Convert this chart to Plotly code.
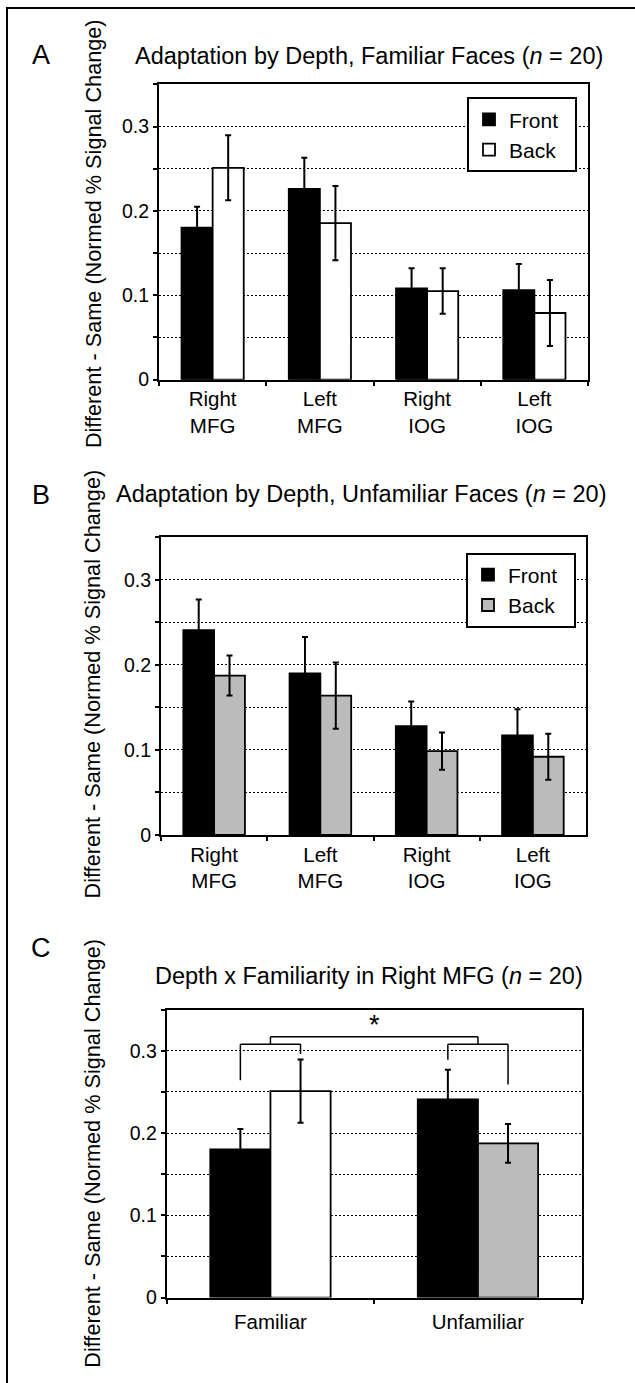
import plotly.graph_objects as go

# ---------------- data ----------------
regions = ["Right<br>MFG", "Left<br>MFG", "Right<br>IOG", "Left<br>IOG"]
conditions = ["Familiar", "Unfamiliar"]

fam_front = [0.180, 0.226, 0.108, 0.106]
fam_front_err = [0.025, 0.037, 0.024, 0.031]
fam_back = [0.251, 0.1855, 0.105, 0.079]
fam_back_err = [0.0385, 0.044, 0.027, 0.039]

unf_front = [0.241, 0.190, 0.128, 0.117]
unf_front_err = [0.036, 0.043, 0.029, 0.031]
unf_back = [0.1875, 0.164, 0.0986, 0.092]
unf_back_err = [0.0235, 0.039, 0.022, 0.027]

# panel C: Right MFG only
c_front = [fam_front[0], unf_front[0]]
c_front_err = [fam_front_err[0], unf_front_err[0]]
c_back = [fam_back[0], unf_back[0]]
c_back_err = [fam_back_err[0], unf_back_err[0]]

y_ticks = [0, 0.1, 0.2, 0.3]
y_ticktext = ["0", "0.1", "0.2", "0.3"]

# significance bracket levels (panel C)
bracket_top = 0.308
bracket_join = 0.317
left_legs = [0.264, 0.296]
right_legs = [0.289, 0.259]
star_y = 0.331

# ---------------- styling ----------------
W, H = 635, 1383
FONT = "Liberation Sans, Arial, Helvetica, sans-serif"
GRAY = "#bbbbbb"
BARGAP = 0.42


def px(x):
    return x / W


def py(y):
    return 1 - y / H


def err(arr):
    return dict(type="data", array=arr, color="black", thickness=2, width=3)


fig = go.Figure()

# Panel A
fig.add_trace(go.Bar(x=regions, y=fam_front, error_y=err(fam_front_err), name="Front&nbsp;&nbsp;",
                     marker=dict(color="black", line=dict(color="black", width=1.8)),
                     xaxis="x", yaxis="y", legend="legend"))
fig.add_trace(go.Bar(x=regions, y=fam_back, error_y=err(fam_back_err), name="Back",
                     marker=dict(color="white", line=dict(color="black", width=1.8)),
                     xaxis="x", yaxis="y", legend="legend"))
# Panel B
fig.add_trace(go.Bar(x=regions, y=unf_front, error_y=err(unf_front_err), name="Front&nbsp;&nbsp;",
                     marker=dict(color="black", line=dict(color="black", width=1.8)),
                     xaxis="x2", yaxis="y2", legend="legend2"))
fig.add_trace(go.Bar(x=regions, y=unf_back, error_y=err(unf_back_err), name="Back",
                     marker=dict(color=GRAY, line=dict(color="black", width=1.8)),
                     xaxis="x2", yaxis="y2", legend="legend2"))
# Panel C
fig.add_trace(go.Bar(x=conditions, y=c_front, error_y=err(c_front_err), name="Front",
                     marker=dict(color="black", line=dict(color="black", width=1.8)),
                     xaxis="x3", yaxis="y3", showlegend=False))
fig.add_trace(go.Bar(x=conditions, y=c_back, error_y=err(c_back_err), name="Back",
                     marker=dict(color=["white", GRAY], line=dict(color="black", width=1.8)),
                     xaxis="x3", yaxis="y3", showlegend=False))

grid = dict(gridcolor="black", griddash="2px,2px", gridwidth=1)


def yaxis(domain, anchor):
    return dict(domain=domain, anchor=anchor, range=[0, 0.35], tickmode="array",
                tickvals=y_ticks, ticktext=y_ticktext, showgrid=True, **grid,
                minor=dict(tick0=0, dtick=0.05, showgrid=True, gridcolor="black",
                           griddash="2px,2px", gridwidth=1, ticks="outside",
                           ticklen=4, tickcolor="black", tickwidth=1.5),
                ticks="outside", ticklen=4, tickcolor="black", tickwidth=1.5,
                showline=True, mirror=True, linewidth=2, linecolor="black",
                zeroline=False, tickfont=dict(size=19.5, color="black"), fixedrange=True)


def xaxis(domain, anchor, standoff=0):
    return dict(domain=domain, anchor=anchor, type="category", tickson="boundaries",
                ticks="outside", ticklen=4, tickcolor="black", tickwidth=1.5,
                showline=True, mirror=True, linewidth=2, linecolor="black",
                ticklabelstandoff=standoff,
                showgrid=False, tickfont=dict(size=20.5, color="black"), fixedrange=True)


legend_common = dict(bgcolor="white", bordercolor="black", borderwidth=2,
                     font=dict(size=21, color="black", family=FONT),
                     xanchor="left", yanchor="top", tracegroupgap=0)

annotations = []
# panel labels
for lab, cy in [("A", 55), ("B", 499), ("C", 956)]:
    annotations.append(dict(text=lab, x=px(41), y=py(cy), xref="paper", yref="paper",
                            showarrow=False, xanchor="center", yanchor="middle",
                            font=dict(size=27, color="black", family=FONT)))
# titles
titles = [
    ("Adaptation by Depth, Familiar Faces (<i>n</i> = 20)", 133, 56),
    ("Adaptation by Depth, Unfamiliar Faces (<i>n</i> = 20)", 114, 498),
    ("Depth x Familiarity in Right MFG (<i>n</i> = 20)", 153, 984),
]
for t, lx, cy in titles:
    annotations.append(dict(text=t, x=px(lx), y=py(cy), xref="paper", yref="paper",
                            showarrow=False, xanchor="left", yanchor="middle",
                            font=dict(size=23.5, color="black", family=FONT)))
# y-axis titles
for cy in [236, 690, 1163]:
    annotations.append(dict(text="Different - Same (Normed % Signal Change)",
                            x=px(93), y=py(cy), xref="paper", yref="paper",
                            textangle=-90, showarrow=False, xanchor="center",
                            yanchor="middle", font=dict(size=21.7, color="black", family=FONT)))
# significance star
annotations.append(dict(text="*", x=0.5, y=star_y, xref="x3", yref="y3", showarrow=False,
                        xanchor="center", yanchor="middle",
                        font=dict(size=27, color="black", family=FONT)))

# brackets in panel C (bar centers from group geometry)
off = (1 - BARGAP) / 4
shapes = []
ln = dict(color="black", width=1.5)


def seg(x0, y0, x1, y1):
    shapes.append(dict(type="line", xref="x3", yref="y3", x0=x0, y0=y0, x1=x1, y1=y1, line=ln))


for ci, legs in [(0, left_legs), (1, right_legs)]:
    xa, xb = ci - off, ci + off
    seg(xa, legs[0], xa, bracket_top)
    seg(xa, bracket_top, xb, bracket_top)
    seg(xb, bracket_top, xb, legs[1])
    seg(ci, bracket_top, ci, bracket_join)
seg(0, bracket_join, 1, bracket_join)

# outer frame
shapes.append(dict(type="rect", xref="paper", yref="paper", x0=px(7), x1=1.05,
                   y0=-0.05, y1=py(8), line=dict(color="black", width=2),
                   fillcolor="rgba(0,0,0,0)", layer="below"))

fig.update_layout(
    width=W, height=H, margin=dict(l=0, r=0, t=0, b=0),
    paper_bgcolor="white", plot_bgcolor="white",
    font=dict(family=FONT, color="black"),
    barmode="group", bargap=BARGAP, bargroupgap=0,
    xaxis=xaxis([px(159), px(588)], "y"),
    yaxis=yaxis([py(382.7), py(85)], "x"),
    xaxis2=xaxis([px(161), px(586)], "y2"),
    yaxis2=yaxis([py(841.7), py(541.7)], "x2"),
    xaxis3=xaxis([px(166.7), px(581.7)], "y3", standoff=5),
    yaxis3=yaxis([py(1308), py(1017.7)], "x3"),
    legend=dict(x=px(467), y=py(98), **legend_common),
    legend2=dict(x=px(466), y=py(557), **legend_common),
    annotations=annotations,
    shapes=shapes,
    showlegend=True,
)

fig.write_html("out.html",
               config={"displayModeBar": False},
               post_script="document.body.style.margin='0';document.body.style.overflow='hidden';")
